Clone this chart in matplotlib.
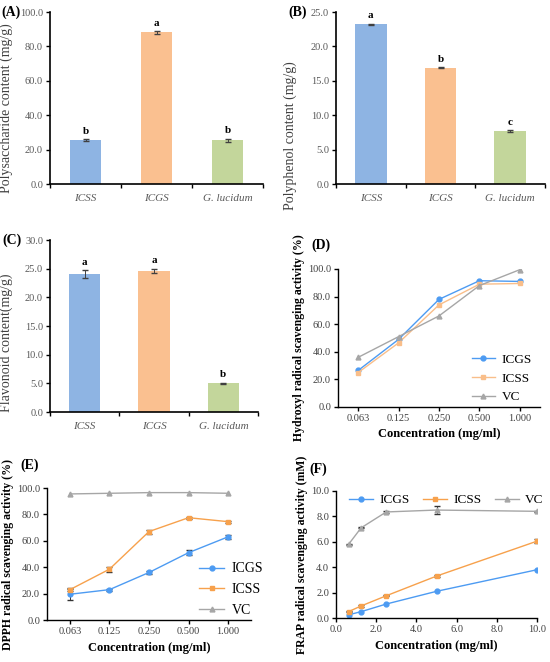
import numpy as np
import matplotlib.pyplot as plt

plt.rcParams['font.family'] = ['Liberation Serif', 'DejaVu Serif']

# bar data
groups = ['ICSS', 'ICGS', 'G. lucidum']
bar_colors = ['#8EB4E3', '#FAC090', '#C3D69B']
polysac = [25.5, 88.2, 25.4]
polysac_err = [0.6, 0.7, 0.9]
polysac_let = ['b', 'a', 'b']
polyphen = [23.2, 16.9, 7.7]
polyphen_err = [0.1, 0.1, 0.1]
polyphen_let = ['a', 'b', 'c']
flavo = [24.0, 24.6, 5.0]
flavo_err = [0.7, 0.4, 0.1]
flavo_let = ['a', 'a', 'b']

# line data
conc_labels = ['0.063', '0.125', '0.250', '0.500', '1.000']
oh_icgs = [26.5, 49.0, 78.0, 91.5, 91.0]
oh_icss = [25.0, 46.5, 74.0, 89.0, 89.5]
oh_vc = [36.0, 51.0, 66.0, 88.0, 99.5]
dp_icgs = [19.5, 23.0, 36.0, 51.0, 63.0]
dp_icgs_err = [4.0, 0.8, 0.8, 2.0, 1.5]
dp_icss = [23.0, 38.5, 67.0, 77.5, 74.5]
dp_icss_err = [1.0, 2.0, 1.5, 0.8, 0.8]
dp_vc = [95.5, 96.0, 96.5, 96.5, 96.0]
frap_conc = [0.625, 1.25, 2.5, 5.0, 10.0]
fr_icgs = [0.25, 0.5, 1.1, 2.1, 3.8]
fr_icss = [0.5, 0.95, 1.75, 3.3, 6.05]
fr_icss_err = [0.05, 0.05, 0.05, 0.05, 0.15]
fr_vc = [5.8, 7.1, 8.35, 8.5, 8.4]
fr_vc_err = [0.05, 0.05, 0.05, 0.3, 0.05]

c_icgs = '#4D9BF2'
c_icss = '#F7A14C'
c_vc = '#A6A6A6'
tick_grey = '#595959'

W, H = 550, 662
fig = plt.figure(figsize=(W / 100, H / 100), dpi=100)

def box(l, r, t, b):
    return [l / W, (H - b) / H, (r - l) / W, (b - t) / H]

def bar_panel(rect, vals, errs, lets, ymax, ystep, ylabel, tag, lab_xy):
    ax = fig.add_axes(rect)
    x = np.arange(len(vals))
    ax.bar(x, vals, width=0.45, color=bar_colors)
    ax.errorbar(x, vals, yerr=errs, fmt='none', ecolor='#404040', elinewidth=0.7, capsize=2)
    for xi, v, e, l in zip(x, vals, errs, lets):
        ax.text(xi, v + e + ymax * 0.02, l, ha='center', va='bottom', fontsize=8, fontweight='bold')
    ax.set_xlim(-0.5, 2.5)
    ax.set_ylim(0, ymax)
    ticks = np.arange(0, ymax + 0.01, ystep)
    ax.set_yticks(ticks)
    ax.set_yticklabels(['%.1f' % v for v in ticks], fontsize=7.5, color=tick_grey)
    ax.set_xticks([-0.5, 0.5, 1.5, 2.5])
    ax.set_xticklabels([])
    for xi, g in zip(x, groups):
        ax.text(xi, -ymax * 0.06, g, ha='center', va='top', fontsize=8, style='italic',
                color=tick_grey)
    ax.spines['top'].set_visible(False)
    ax.spines['right'].set_visible(False)
    ax.spines['left'].set_linewidth(1.2)
    ax.spines['bottom'].set_linewidth(1.2)
    ax.tick_params(direction='out', length=3, width=1, pad=2)
    ax.set_ylabel(ylabel, fontsize=10, color='#404040')
    ax.yaxis.set_label_coords(*lab_xy)
    ax.text(-0.23, 1.0, tag, transform=ax.transAxes, fontsize=10, fontweight='bold', va='center')
    return ax

axA = bar_panel(box(50, 263, 12, 184), polysac, polysac_err, polysac_let, 100, 20,
                'Polysaccharide content (mg/g)', '(A)', (-0.175, 0.44))
axB = bar_panel(box(336, 545, 12, 184), polyphen, polyphen_err, polyphen_let, 25, 5,
                'Polyphenol content (mg/g)', '(B)', (-0.185, 0.28))
axC = bar_panel(box(50, 258, 240, 412), flavo, flavo_err, flavo_let, 30, 5,
                'Flavonoid content(mg/g)', '(C)', (-0.178, 0.40))

def line_style(ax, ylabel, tag):
    for s in ['top', 'right']:
        ax.spines[s].set_visible(False)
    ax.spines['left'].set_linewidth(1.0)
    ax.spines['bottom'].set_linewidth(1.0)
    ax.tick_params(direction='out', length=3, width=1, labelsize=7.5, labelcolor='#404040', pad=2)
    ax.set_ylabel(ylabel, fontsize=8.5, fontweight='bold', labelpad=2)
    ax.set_xlabel('Concentration (mg/ml)', fontsize=9, fontweight='bold', labelpad=4)
    ax.text(-0.13, 1.17, tag, transform=ax.transAxes, fontsize=10, fontweight='bold', va='center')

def lines(ax, x, series):
    hs = []
    for y, mk, c, lab in series:
        h, = ax.plot(x, y, '-' + mk, color=c, ms=3.5, lw=1, label=lab)
        hs.append(h)
    return hs

xc = np.arange(len(conc_labels))
pct_ticks = np.arange(0, 101, 20)

# (D)
axD = fig.add_axes(box(338, 540, 269, 407))
hD = lines(axD, xc, [(oh_icgs, 'o', c_icgs, 'ICGS'), (oh_icss, 's', '#F9BE8A', 'ICSS'),
                     (oh_vc, '^', c_vc, 'VC')])
axD.set_xlim(-0.5, 4.5)
axD.set_ylim(0, 100)
axD.set_xticks(xc)
axD.set_xticklabels(conc_labels)
axD.set_yticks(pct_ticks)
axD.set_yticklabels(['%.1f' % v for v in pct_ticks])
line_style(axD, 'Hydroxyl radical scavenging activity (%)', '(D)')
axD.legend(handles=hD, loc='lower right', bbox_to_anchor=(1.02, -0.06), frameon=False,
           fontsize=9.5, handlelength=1.8, labelspacing=0.5, handletextpad=0.5)

# (E)
axE = fig.add_axes(box(47, 251, 488, 620))
axE.errorbar(xc, dp_icgs, yerr=dp_icgs_err, fmt='none', ecolor='#333333', elinewidth=0.7, capsize=2)
axE.errorbar(xc, dp_icss, yerr=dp_icss_err, fmt='none', ecolor='#333333', elinewidth=0.7, capsize=2)
hE = lines(axE, xc, [(dp_icgs, 'o', c_icgs, 'ICGS'), (dp_icss, 's', c_icss, 'ICSS'),
                     (dp_vc, '^', c_vc, 'VC')])
axE.set_xlim(-0.58, 4.58)
axE.set_ylim(0, 100)
axE.set_xticks(xc)
axE.set_xticklabels(conc_labels)
axE.set_yticks(pct_ticks)
axE.set_yticklabels(['%.1f' % v for v in pct_ticks])
line_style(axE, 'DPPH radical scavenging activity (%)', '(E)')
axE.legend(handles=hE, loc='lower right', bbox_to_anchor=(1.12, -0.07), frameon=False,
           fontsize=10, handlelength=1.8, labelspacing=0.55, handletextpad=0.5)

# (F)
axF = fig.add_axes(box(336, 537, 491, 618))
axF.errorbar(frap_conc, fr_icss, yerr=fr_icss_err, fmt='none', ecolor='#333333', elinewidth=0.7, capsize=2)
axF.errorbar(frap_conc, fr_vc, yerr=fr_vc_err, fmt='none', ecolor='#333333', elinewidth=0.7, capsize=2)
hF = lines(axF, frap_conc, [(fr_icgs, 'o', c_icgs, 'ICGS'), (fr_icss, 's', c_icss, 'ICSS'),
                            (fr_vc, '^', c_vc, 'VC')])
axF.set_xlim(0, 10)
axF.set_ylim(0, 10)
f_ticks = np.arange(0, 10.1, 2)
axF.set_xticks(f_ticks)
axF.set_xticklabels(['%.1f' % v for v in f_ticks])
axF.set_yticks(f_ticks)
axF.set_yticklabels(['%.1f' % v for v in f_ticks])
line_style(axF, 'FRAP radical scavenging activity (mM)', '(F)')
axF.legend(handles=hF, loc='upper center', bbox_to_anchor=(0.55, 1.07), ncol=3, frameon=False,
           fontsize=9.5, handlelength=1.8, columnspacing=1.0, handletextpad=0.5)

fig.savefig('out.png', dpi=100)
